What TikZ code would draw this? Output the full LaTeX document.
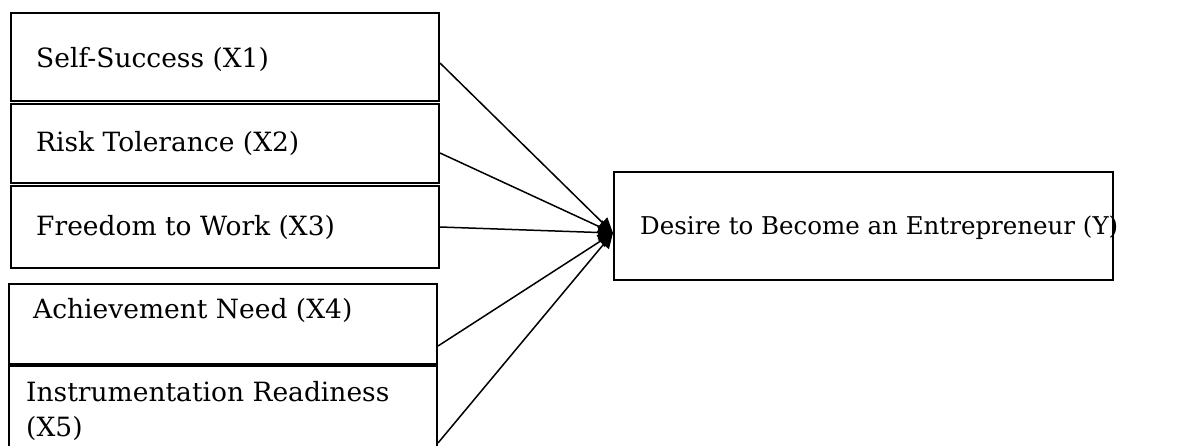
\documentclass[tikz,border=0pt]{standalone}
\usepackage{fontspec}
\setmainfont{DejaVu Serif}
\usetikzlibrary{arrows.meta}
\begin{document}
\begin{tikzpicture}[x=1pt,y=-1pt,
  box/.style={draw, line width=2pt, inner sep=0pt, anchor=north west},
  lbl/.style={anchor=base west, inner sep=0pt, font=\fontsize{26.5}{31}\selectfont},
  lbly/.style={lbl, font=\fontsize{24.5}{29}\selectfont},
  link/.style={line width=1.5pt, -{Triangle[length=15pt,width=14pt]}}]
\clip (0,0) rectangle (1183,445);
\fill[white] (0,0) rectangle (1183,445);
% independent variable boxes
\node[box, minimum width=428pt, minimum height=88pt] (b1) at (10,12) {};
\node[box, minimum width=428pt, minimum height=79pt] (b2) at (10,103) {};
\node[box, minimum width=428pt, minimum height=82pt] (b3) at (10,185) {};
\node[box, minimum width=428pt, minimum height=80pt] (b4) at (8,283) {};
\node[box, minimum width=428pt, minimum height=110pt] (b5) at (8,365) {};
% labels
\node[lbl] (t1) at (36,67) {Self-Success (X1)};
\node[lbl] (t2) at (36,151) {Risk Tolerance (X2)};
\node[lbl] (t3) at (36,235) {Freedom to Work (X3)};
\node[lbl] (t4) at (33,318) {Achievement Need (X4)};
\node[lbl] (t5a) at (26,401) {Instrumentation Readiness};
\node[lbl] (t5b) at (26,436) {(X5)};
% dependent variable
\node[box, minimum width=499pt, minimum height=108pt] (y) at (613,171) {};
\node[lbly] (ty) at (640,234) {Desire to Become an Entrepreneur (Y)};
% connectors
\draw[link] ([yshift=-6pt]b1.east) -- ([yshift=-7pt]y.west);
\draw[link] ([yshift=-9.5pt]b2.east) -- ([yshift=-7pt]y.west);
\draw[link] (b3.east) -- ([yshift=-7pt]y.west);
\draw[link] ([yshift=-22pt]b4.east) -- ([yshift=-7pt]y.west);
\draw[link] ([yshift=-78pt]b5.north east) -- ([yshift=-7pt]y.west);
\end{tikzpicture}
\end{document}
